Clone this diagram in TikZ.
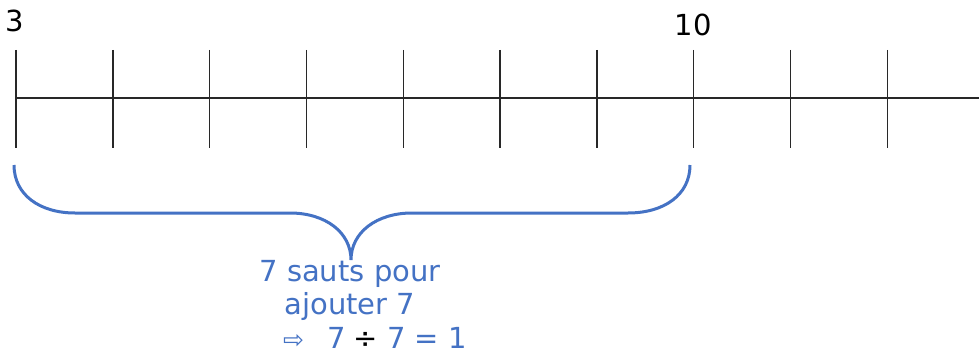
\documentclass[tikz,border=0pt]{standalone}
\usepackage{fontspec}
\setmainfont{DejaVu Sans}
\usepackage{tikz}
\usetikzlibrary{arrows.meta,calc,positioning}
\definecolor{BraceBlue}{RGB}{68,114,196}
\definecolor{TickGray}{RGB}{40,40,40}

\begin{document}
\begin{tikzpicture}[x=1pt,y=-1pt,>=Latex]
      \useasboundingbox (0,0) rectangle (979,353);
      \draw[line width=1.4pt,TickGray] (16,98)--(979,98);
      \foreach \i in {0,...,9}
        \draw[line width=1.4pt,TickGray] ({16+96.8*\i},50)--({16+96.8*\i},148);
      \node[anchor=base,font=\fontsize{29}{34}\selectfont] (start) at (15,32) {3};
      \node[anchor=base,font=\fontsize{29}{34}\selectfont] (end) at (693,36) {10};
      \draw[line width=3pt,BraceBlue] (14,165) .. controls (14,195) and (40,213) .. (75,213)
        -- (290,213) .. controls (325,213) and (351,232) .. (351,260)
        .. controls (351,232) and (377,213) .. (412,213)
        -- (628,213) .. controls (664,213) and (690,195) .. (690,165);
      \node[anchor=base,text=BraceBlue,font=\fontsize{29}{34}\selectfont] (jumps) at (350,281) {7 sauts pour};
      \node[anchor=base,text=BraceBlue,font=\fontsize{29}{34}\selectfont] (add) at (350,314) {ajouter 7};
      \node[anchor=base west,inner sep=0pt,text=BraceBlue,font=\fontsize{29}{34}\selectfont] (result) at (283,348)
        {\fontsize{25}{34}\selectfont⇨\fontsize{29}{34}\selectfont\hspace{23pt}7\hspace{-1pt} \textcolor{black}{÷} 7 = 1};
    \end{tikzpicture}
\end{document}
